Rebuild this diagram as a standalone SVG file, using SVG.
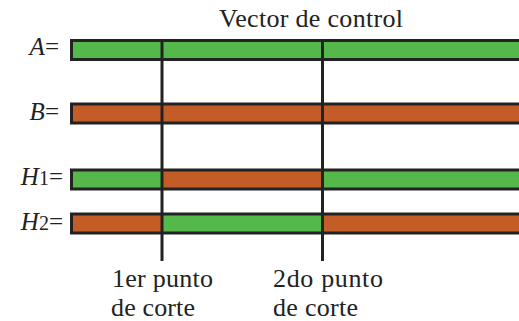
<svg xmlns="http://www.w3.org/2000/svg" width="519" height="321" viewBox="0 0 519 321">
<style>
.bar{stroke:#222;stroke-width:3}
.g{fill:#55b84a}
.o{fill:#c45c28}
.cut{stroke:#222;stroke-width:3;fill:none}
svg g[id] text.t, svg text.t, svg g[id] text.t tspan{font-family:'Liberation Serif',serif !important}
.t{fill:#222;font-size:26px}
.lab{font-size:25px}
.it{font-style:italic}
.sub{font-size:20px}
</style>
<rect width="519" height="321" fill="#fff"/>
<text class="t" x="219" y="27" textLength="184" font-family="Liberation Serif">Vector de control</text>
<g id="A">
<rect class="bar g" x="71.5" y="40.5" width="460" height="19"/>
<text class="t lab" x="59" y="55" text-anchor="end" font-family="Liberation Serif"><tspan class="it">A</tspan>=</text>
</g>
<g id="B">
<rect class="bar o" x="71.5" y="104" width="460" height="19"/>
<text class="t lab" x="59" y="120" text-anchor="end" font-family="Liberation Serif"><tspan class="it">B</tspan>=</text>
</g>
<g id="H1">
<rect class="g" x="71.5" y="170" width="91" height="19"/>
<rect class="o" x="162.5" y="170" width="160" height="19"/>
<rect class="g" x="322.5" y="170" width="209" height="19"/>
<rect class="bar" fill="none" x="71.5" y="170" width="460" height="19"/>
<text class="t lab" x="63" y="185" text-anchor="end" font-family="Liberation Serif"><tspan class="it">H</tspan><tspan class="sub">1</tspan>=</text>
</g>
<g id="H2">
<rect class="o" x="71.5" y="214" width="91" height="19"/>
<rect class="g" x="162.5" y="214" width="160" height="19"/>
<rect class="o" x="322.5" y="214" width="209" height="19"/>
<rect class="bar" fill="none" x="71.5" y="214" width="460" height="19"/>
<text class="t lab" x="63" y="230" text-anchor="end" font-family="Liberation Serif"><tspan class="it">H</tspan><tspan class="sub">2</tspan>=</text>
</g>
<g id="connectors">
<line class="cut" x1="162" y1="40" x2="162" y2="261"/>
<line class="cut" x1="322.5" y1="40" x2="322.5" y2="261"/>
</g>
<text class="t" x="112" y="287" textLength="101" font-family="Liberation Serif">1er punto</text>
<text class="t" x="111" y="316" textLength="84" font-family="Liberation Serif">de corte</text>
<text class="t" x="273" y="287" textLength="110" font-family="Liberation Serif">2do punto</text>
<text class="t" x="273" y="316" textLength="85" font-family="Liberation Serif">de corte</text>
</svg>
